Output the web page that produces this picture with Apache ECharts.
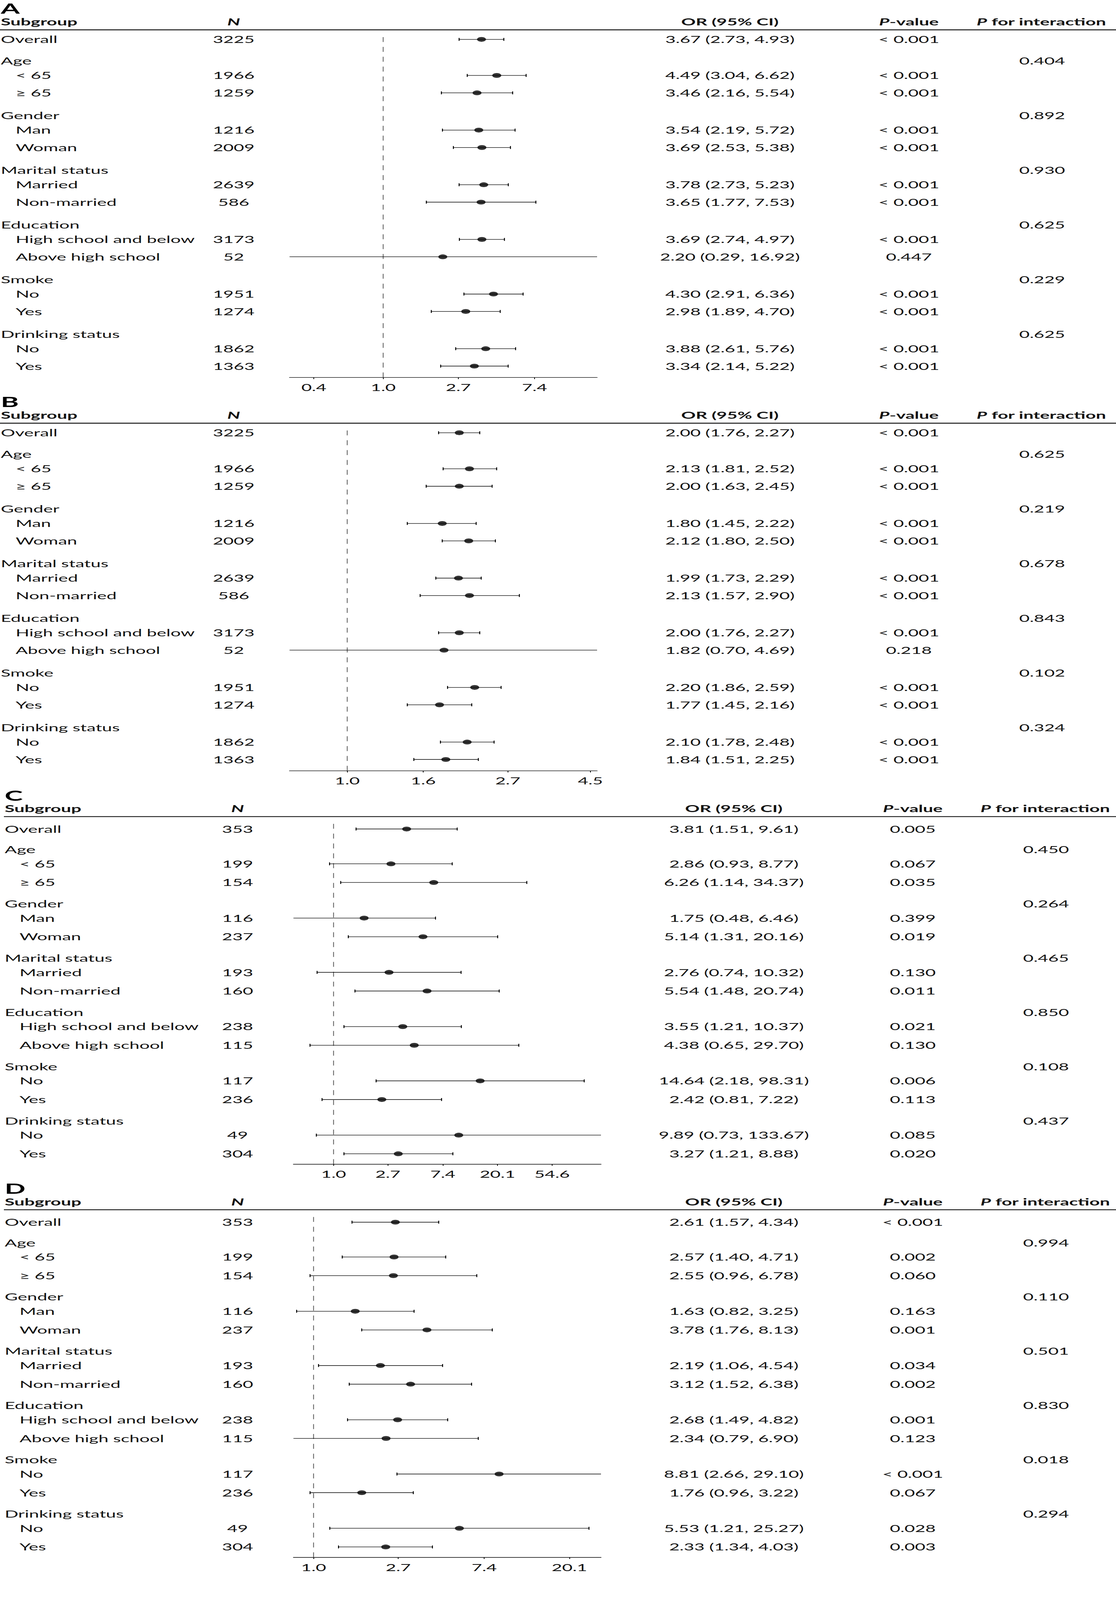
<!DOCTYPE html>
<html>
<head>
<meta charset="utf-8">
<title>Subgroup forest plots</title>
<script src="https://cdn.jsdelivr.net/npm/echarts@6/dist/echarts.min.js"></script>
<style>
html, body { margin: 0; padding: 0; background: #fff; overflow: hidden; }
#chart { width: 2856px; height: 7720px; transform-origin: 0 0; }
</style>
</head>
<body>
<div id="chart"></div>
<script>
// rows, shared by the four panels
var subgroups = ['Overall', 'Age', '< 65', '\u2265 65', 'Gender', 'Man', 'Woman',
    'Marital status', 'Married', 'Non-married', 'Education', 'High school and below',
    'Above high school', 'Smoke', 'No', 'Yes', 'Drinking status', 'No', 'Yes'];
var rowKind = ['main', 'head', 'item', 'item', 'head', 'item', 'item', 'head', 'item', 'item',
    'head', 'item', 'item', 'head', 'item', 'item', 'head', 'item', 'item'];

// panel A
var nA = [3225, null, 1966, 1259, null, 1216, 2009, null, 2639, 586, null, 3173, 52, null, 1951, 1274, null, 1862, 1363];
var orA = [3.67, null, 4.49, 3.46, null, 3.54, 3.69, null, 3.78, 3.65, null, 3.69, 2.20, null, 4.30, 2.98, null, 3.88, 3.34];
var loA = [2.73, null, 3.04, 2.16, null, 2.19, 2.53, null, 2.73, 1.77, null, 2.74, 0.29, null, 2.91, 1.89, null, 2.61, 2.14];
var hiA = [4.93, null, 6.62, 5.54, null, 5.72, 5.38, null, 5.23, 7.53, null, 4.97, 16.92, null, 6.36, 4.70, null, 5.76, 5.22];
var pA = ['< 0.001', null, '< 0.001', '< 0.001', null, '< 0.001', '< 0.001', null, '< 0.001', '< 0.001', null, '< 0.001', '0.447', null, '< 0.001', '< 0.001', null, '< 0.001', '< 0.001'];
var pintA = [null, '0.404', null, null, '0.892', null, null, '0.930', null, null, '0.625', null, null, '0.229', null, null, '0.625', null, null];
var ticksA = ['0.4', '1.0', '2.7', '7.4'];

// panel B
var nB = [3225, null, 1966, 1259, null, 1216, 2009, null, 2639, 586, null, 3173, 52, null, 1951, 1274, null, 1862, 1363];
var orB = [2.00, null, 2.13, 2.00, null, 1.80, 2.12, null, 1.99, 2.13, null, 2.00, 1.82, null, 2.20, 1.77, null, 2.10, 1.84];
var loB = [1.76, null, 1.81, 1.63, null, 1.45, 1.80, null, 1.73, 1.57, null, 1.76, 0.70, null, 1.86, 1.45, null, 1.78, 1.51];
var hiB = [2.27, null, 2.52, 2.45, null, 2.22, 2.50, null, 2.29, 2.90, null, 2.27, 4.69, null, 2.59, 2.16, null, 2.48, 2.25];
var pB = ['< 0.001', null, '< 0.001', '< 0.001', null, '< 0.001', '< 0.001', null, '< 0.001', '< 0.001', null, '< 0.001', '0.218', null, '< 0.001', '< 0.001', null, '< 0.001', '< 0.001'];
var pintB = [null, '0.625', null, null, '0.219', null, null, '0.678', null, null, '0.843', null, null, '0.102', null, null, '0.324', null, null];
var ticksB = ['1.0', '1.6', '2.7', '4.5'];

// panel C
var nC = [353, null, 199, 154, null, 116, 237, null, 193, 160, null, 238, 115, null, 117, 236, null, 49, 304];
var orC = [3.81, null, 2.86, 6.26, null, 1.75, 5.14, null, 2.76, 5.54, null, 3.55, 4.38, null, 14.64, 2.42, null, 9.89, 3.27];
var loC = [1.51, null, 0.93, 1.14, null, 0.48, 1.31, null, 0.74, 1.48, null, 1.21, 0.65, null, 2.18, 0.81, null, 0.73, 1.21];
var hiC = [9.61, null, 8.77, 34.37, null, 6.46, 20.16, null, 10.32, 20.74, null, 10.37, 29.70, null, 98.31, 7.22, null, 133.67, 8.88];
var pC = ['0.005', null, '0.067', '0.035', null, '0.399', '0.019', null, '0.130', '0.011', null, '0.021', '0.130', null, '0.006', '0.113', null, '0.085', '0.020'];
var pintC = [null, '0.450', null, null, '0.264', null, null, '0.465', null, null, '0.850', null, null, '0.108', null, null, '0.437', null, null];
var ticksC = ['1.0', '2.7', '7.4', '20.1', '54.6'];

// panel D
var nD = [353, null, 199, 154, null, 116, 237, null, 193, 160, null, 238, 115, null, 117, 236, null, 49, 304];
var orD = [2.61, null, 2.57, 2.55, null, 1.63, 3.78, null, 2.19, 3.12, null, 2.68, 2.34, null, 8.81, 1.76, null, 5.53, 2.33];
var loD = [1.57, null, 1.40, 0.96, null, 0.82, 1.76, null, 1.06, 1.52, null, 1.49, 0.79, null, 2.66, 0.96, null, 1.21, 1.34];
var hiD = [4.34, null, 4.71, 6.78, null, 3.25, 8.13, null, 4.54, 6.38, null, 4.82, 6.90, null, 29.10, 3.22, null, 25.27, 4.03];
var pD = ['< 0.001', null, '0.002', '0.060', null, '0.163', '0.001', null, '0.034', '0.002', null, '0.001', '0.123', null, '< 0.001', '0.067', null, '0.028', '0.003'];
var pintD = [null, '0.994', null, null, '0.110', null, null, '0.501', null, null, '0.830', null, null, '0.018', null, null, '0.294', null, null];
var ticksD = ['1.0', '2.7', '7.4', '20.1'];

var panels = [
    {letter: 'A', n: nA, or: orA, lo: loA, hi: hiA, p: pA, pint: pintA, ticks: ticksA},
    {letter: 'B', n: nB, or: orB, lo: loB, hi: hiB, p: pB, pint: pintB, ticks: ticksB},
    {letter: 'C', n: nC, or: orC, lo: loC, hi: hiC, p: pC, pint: pintC, ticks: ticksC},
    {letter: 'D', n: nD, or: orD, lo: loD, hi: hiD, p: pD, pint: pintD, ticks: ticksD}
];

// page layout (pixels, relative to each panel's top)
var layouts = [
    {top: 0,    dx: 0,  overall: 190, group: 294, step: 263.7, off: [0, 70, 154]},
    {top: 1898, dx: 0,  overall: 190, group: 294, step: 263.7, off: [0, 70, 154]},
    {top: 3796, dx: 10, overall: 204, group: 303, step: 261.8, off: [0, 69, 159]},
    {top: 5693, dx: 10, overall: 204, group: 303, step: 261.8, off: [0, 69, 159]}
];
var PAGE_W = 2856, PAGE_H = 7720;
var AXIS_Y = 1821;     // x axis line
var REF_TOP = 179;     // top of the dashed line at OR = 1
var LETTER_Y = 40;     // panel letter
var HEAD_Y = 105;      // header text
var HEAD_LINE_Y = 144; // rule under the header
var PLOT_LEFT = 741;
var PLOT_WIDTH = 787;
var COL = {label: 2, indent: 40, n: 598, or: 1868, p: 2326, pint: 2667};
var FONT = 'Lato, "Noto Sans", sans-serif';
var FS = 46;
var INK = '#111';

function rowY(L, i) {
    if (i === 0) return L.overall;
    return L.group + Math.floor((i - 1) / 3) * L.step + L.off[(i - 1) % 3];
}

function fmtCI(o, l, h) {
    return o.toFixed(2) + ' (' + l.toFixed(2) + ', ' + h.toFixed(2) + ')';
}

var grids = [], xAxes = [], yAxes = [], series = [], graphics = [];

panels.forEach(function (P, k) {
    var L = layouts[k];
    var los = P.lo.filter(function (v) { return v != null; });
    var his = P.hi.filter(function (v) { return v != null; });
    var minLo = Math.min.apply(null, los);
    var maxHi = Math.max.apply(null, his);
    var tickVals = P.ticks.map(function (t) { return Math.log(Number(t)); });

    grids.push({left: PLOT_LEFT + L.dx, width: PLOT_WIDTH, top: L.top, height: AXIS_Y});
    xAxes.push({
        gridIndex: k, type: 'value',
        min: Math.log(minLo), max: Math.log(maxHi),
        axisLine: {show: true, onZero: false, lineStyle: {color: '#000', width: 2.5}},
        axisTick: {show: true, customValues: tickVals, length: 8, lineStyle: {color: '#000', width: 2}},
        axisLabel: {
            show: true, customValues: tickVals, margin: 26,
            fontSize: FS, fontFamily: FONT, color: INK,
            formatter: function (v) {
                for (var t = 0; t < tickVals.length; t++) {
                    if (Math.abs(tickVals[t] - v) < 1e-6) return P.ticks[t];
                }
                return '';
            }
        },
        splitLine: {show: false}
    });
    yAxes.push({gridIndex: k, type: 'value', inverse: true, min: 0, max: AXIS_Y, show: false});

    // dashed reference line at OR = 1 (drawn bottom-up so the dashes meet the axis)
    series.push({
        type: 'line', xAxisIndex: k, yAxisIndex: k, silent: true, symbol: 'none',
        data: [[0, AXIS_Y], [0, REF_TOP]],
        lineStyle: {color: '#555', width: 2, type: [24, 23.6]},
        z: 1
    });

    // confidence intervals
    var ciData = [], ptData = [];
    P.or.forEach(function (o, i) {
        if (o == null) return;
        var y = rowY(L, i);
        ciData.push([Math.log(P.lo[i]), Math.log(P.hi[i]), y,
            P.lo[i] > minLo ? 1 : 0, P.hi[i] < maxHi ? 1 : 0]);
        ptData.push([Math.log(o), y]);
    });
    series.push({
        type: 'custom', xAxisIndex: k, yAxisIndex: k, silent: true, clip: false,
        encode: {x: [0, 1], y: 2},
        data: ciData,
        renderItem: function (params, api) {
            var a = api.coord([api.value(0), api.value(2)]);
            var b = api.coord([api.value(1), api.value(2)]);
            var st = {stroke: '#000', lineWidth: 2.5};
            var kids = [{type: 'line', shape: {x1: a[0], y1: a[1], x2: b[0], y2: b[1]}, style: st}];
            if (api.value(3)) kids.push({type: 'line', shape: {x1: a[0], y1: a[1] - 7, x2: a[0], y2: a[1] + 7}, style: st});
            if (api.value(4)) kids.push({type: 'line', shape: {x1: b[0], y1: b[1] - 7, x2: b[0], y2: b[1] + 7}, style: st});
            return {type: 'group', children: kids};
        },
        z: 2
    });
    series.push({
        type: 'scatter', xAxisIndex: k, yAxisIndex: k, silent: true,
        symbol: 'circle', symbolSize: 23,
        itemStyle: {color: '#000'},
        data: ptData, z: 3
    });

    // table columns
    var txtData = subgroups.map(function (s, i) { return [0, rowY(L, i), i]; });
    series.push({
        type: 'custom', xAxisIndex: k, yAxisIndex: k, silent: true, clip: false,
        encode: {x: 0, y: 1},
        data: txtData,
        renderItem: function (params, api) {
            var i = api.value(2);
            var y = api.coord([0, api.value(1)])[1];
            var kids = [];
            function txt(x, s, align) {
                kids.push({
                    type: 'text', x: x, y: y,
                    style: {text: s, textAlign: align, textVerticalAlign: 'middle',
                        font: FS + 'px ' + FONT, fill: INK}
                });
            }
            txt(L.dx + (rowKind[i] === 'item' ? COL.indent : COL.label), subgroups[i], 'left');
            if (P.n[i] != null) txt(L.dx + COL.n, String(P.n[i]), 'center');
            if (P.or[i] != null) txt(L.dx + COL.or, fmtCI(P.or[i], P.lo[i], P.hi[i]), 'center');
            if (P.p[i] != null) txt(L.dx + COL.p, P.p[i], 'center');
            if (P.pint[i] != null) txt(L.dx + COL.pint, P.pint[i], 'center');
            return {type: 'group', children: kids};
        },
        z: 4
    });

    // panel letter, header and rule
    var hy = L.top + HEAD_Y;
    var rich = {
        b: {fontFamily: FONT, fontSize: FS, fontWeight: 'bold', fill: INK, color: INK},
        bi: {fontFamily: FONT, fontSize: FS, fontWeight: 'bold', fontStyle: 'italic', fill: INK, color: INK}
    };
    function head(x, s, align) {
        graphics.push({
            type: 'text', x: x, y: hy, silent: true,
            style: {text: s, rich: rich, textAlign: align, textVerticalAlign: 'middle',
                font: 'bold ' + FS + 'px ' + FONT, fill: INK}
        });
    }
    graphics.push({
        type: 'text', x: L.dx + 2, y: L.top + LETTER_Y, silent: true,
        style: {text: P.letter, textAlign: 'left', textVerticalAlign: 'middle',
            font: 'bold 70px ' + FONT, fill: '#000'}
    });
    head(L.dx + COL.label, '{b|Subgroup}', 'left');
    head(L.dx + COL.n, '{bi|N}', 'center');
    head(L.dx + COL.or, '{b|OR (95% CI)}', 'center');
    head(L.dx + COL.p, '{bi|P}{b|-value}', 'center');
    head(L.dx + 2665, '{bi|P}{b| for interaction}', 'center');
    graphics.push({
        type: 'line', silent: true,
        shape: {x1: L.dx, y1: L.top + HEAD_LINE_Y, x2: PAGE_W, y2: L.top + HEAD_LINE_Y},
        style: {stroke: '#000', lineWidth: 4}
    });
});

// the sandbox window can be shorter than the figure: fit the whole figure into it
var el = document.getElementById('chart');
var sy = Math.min(1, window.innerHeight / PAGE_H);
var sx = Math.min(1, window.innerWidth / PAGE_W);
if (sx < 1 || sy < 1) el.style.transform = 'scale(' + sx + ',' + sy + ')';

var chart = echarts.init(el, null, {renderer: 'svg'});
chart.setOption({
    animation: false,
    backgroundColor: '#fff',
    grid: grids,
    xAxis: xAxes,
    yAxis: yAxes,
    series: series,
    graphic: graphics
});
</script>
</body>
</html>
